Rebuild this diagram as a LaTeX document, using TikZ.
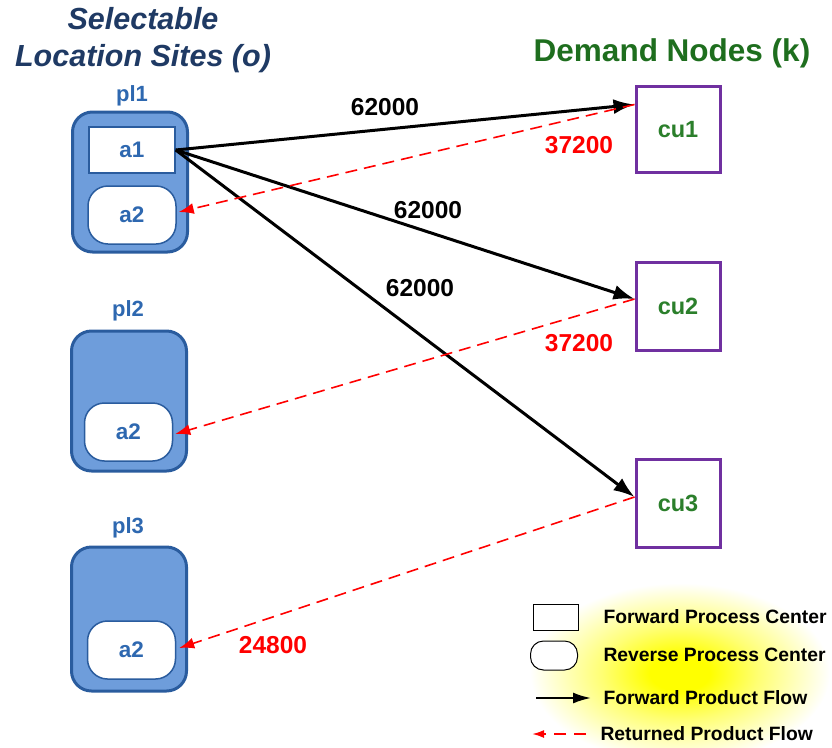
\documentclass[tikz,border=0pt]{standalone}
\usepackage{fontspec}
\setmainfont{Liberation Sans}
\usetikzlibrary{arrows.meta,shapes.geometric}
\definecolor{titleblue}{HTML}{1F3A64}
\definecolor{plblue}{HTML}{2E68B0}
\definecolor{plfill}{HTML}{6E9DDB}
\definecolor{pledge}{HTML}{2A5C9E}
\definecolor{dgreen}{HTML}{1E6E1E}
\definecolor{cupurple}{HTML}{7030A0}
\definecolor{cugreen}{HTML}{2B7F2B}
\pgfdeclareradialshading{glow}{\pgfpoint{0bp}{0bp}}{color(0bp)=(yellow); color(5bp)=(yellow); color(13bp)=(yellow!55); color(25bp)=(white); color(50bp)=(white)}
\tikzset{
  fs/.style={font=\bfseries\fontsize{#1}{#1}\selectfont},
  plbox/.style={draw=pledge, fill=plfill, line width=3pt, rounded corners=20pt, minimum width=115pt, inner sep=0pt},
  fwdbox/.style={draw=pledge, fill=white, line width=1.5pt, minimum width=86pt, minimum height=46pt, inner sep=0pt, text=plblue, fs=22.5},
  revbox/.style={draw=pledge, fill=white, line width=1.5pt, rounded corners=20pt, minimum width=88pt, minimum height=58pt, inner sep=0pt, text=plblue, fs=22.5},
  cubox/.style={draw=cupurple, fill=white, line width=3pt, minimum width=84pt, minimum height=86pt, inner sep=0pt, text=cugreen, fs=23.5},
  pllabel/.style={text=plblue, fs=22},
  fwd/.style={line width=3pt, -{Latex[length=21pt,width=15pt]}},
  ret/.style={red, line width=1.6pt, dash pattern=on 12pt off 7pt, -{Latex[length=15pt,width=11pt]}},
  flowlbl/.style={fs=24.5},
  legtext/.style={fs=19.3, anchor=west}
}
\begin{document}
\begin{tikzpicture}[x=1pt,y=-1pt]
\useasboundingbox (0,0) rectangle (832,747);
% legend glow
\shade[shading=glow] (680,673) ellipse (150pt and 90pt);
% titles
\node[text=titleblue, font=\bfseries\itshape\fontsize{30.5}{37}\selectfont, align=center] (title) at (143,40) {Selectable\\Location Sites (o)};
\node[text=dgreen, fs=31.5] (dtitle) at (672,53) {Demand Nodes (k)};
% pl1
\node[pllabel] (pl1lbl) at (132,96) {pl1};
\node[plbox, minimum height=140pt] (pl1) at (130,182) {};
\node[fwdbox] (a1) at (132,150) {a1};
\node[revbox] (a2p1) at (132,215) {a2};
% pl2
\node[pllabel] (pl2lbl) at (128,311) {pl2};
\node[plbox, minimum height=140pt] (pl2) at (129,401) {};
\node[revbox] (a2p2) at (128.5,432) {a2};
% pl3
\node[pllabel] (pl3lbl) at (128,528) {pl3};
\node[plbox, minimum height=144pt] (pl3) at (129,619) {};
\node[revbox] (a2p3) at (131.5,650) {a2};
% demand nodes
\node[cubox] (cu1) at (678,129.5) {cu1};
\node[cubox, minimum height=88pt] (cu2) at (678,306) {cu2};
\node[cubox, minimum height=88pt] (cu3) at (678,503) {cu3};
% contact points on cu boxes
\coordinate (c1) at ([yshift=25pt]cu1.west);
\coordinate (c2) at ([yshift=7pt]cu2.west);
\coordinate (c3) at ([yshift=6pt]cu3.west);
% forward flows
\draw[fwd] (a1.east) -- (c1);
\draw[fwd] (a1.east) -- (c2);
\draw[fwd] (a1.east) -- (c3);
% returned flows
\draw[ret] (c1) -- ([xshift=2pt,yshift=3pt]a2p1.east);
\draw[ret] (c2) -- ([xshift=2pt,yshift=-2pt]a2p2.east);
\draw[ret] (c3) -- ([xshift=3pt,yshift=2pt]a2p3.east);
% labels
\node[flowlbl] (l1) at (385,107) {62000};
\node[flowlbl] (l2) at (428,210) {62000};
\node[flowlbl] (l3) at (420,288) {62000};
\node[flowlbl, text=red] (r1) at (579,145) {37200};
\node[flowlbl, text=red] (r2) at (579,343) {37200};
\node[flowlbl, text=red] (r3) at (273,645) {24800};
% legend
\node[draw, line width=1pt, fill=white, minimum width=45pt, minimum height=26pt, inner sep=0pt] (lgf) at (555.5,617) {};
\node[draw, line width=1pt, fill=white, rounded corners=13pt, minimum width=47pt, minimum height=29pt, inner sep=0pt] (lgr) at (554,655.5) {};
\coordinate (lfa) at (536,698);
\coordinate (lfb) at (591,698);
\coordinate (lra) at (586,734);
\coordinate (lrb) at (532,734);
\draw[line width=2pt, -{Latex[length=18pt,width=11pt]}] (lfa) -- (lfb);
\draw[red, line width=2pt, dash pattern=on 12pt off 8pt, -{Latex[length=12pt,width=8pt]}] (lra) -- (lrb);
\node[legtext] (t1) at (600,617) {Forward Process Center};
\node[legtext] (t2) at (600,655) {Reverse Process Center};
\node[legtext] (t3) at (600,698) {Forward Product Flow};
\node[legtext] (t4) at (597,734) {Returned Product Flow};
\end{tikzpicture}
\end{document}
